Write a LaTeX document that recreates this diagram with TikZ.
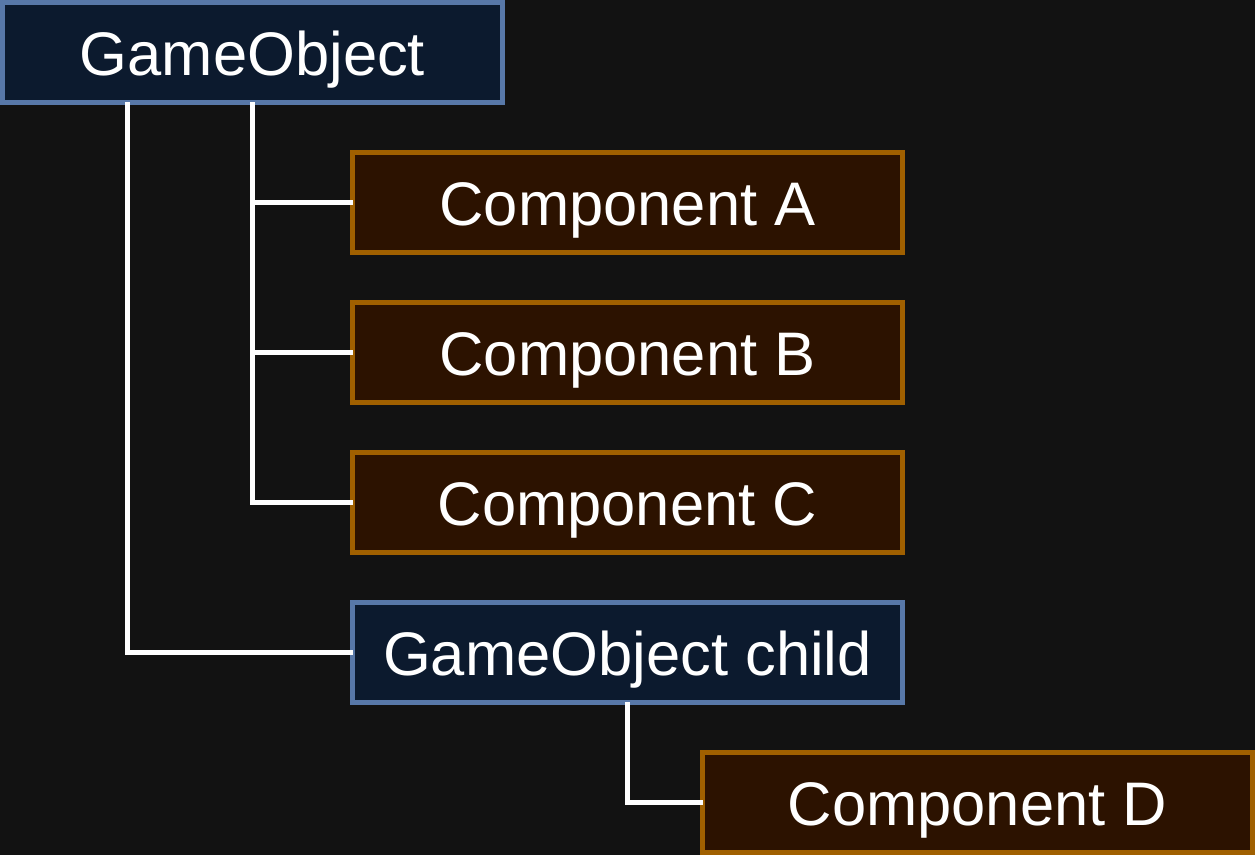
\documentclass[tikz,border=0pt]{standalone}
\usepackage{fontspec}
\setmainfont{Liberation Sans}
\usetikzlibrary{positioning}
\definecolor{bgcol}{HTML}{121212}
\definecolor{objfill}{HTML}{0C1A2E}
\definecolor{objdraw}{HTML}{5878A8}
\definecolor{compfill}{HTML}{2C1200}
\definecolor{compdraw}{HTML}{A06000}

\begin{document}
\begin{tikzpicture}[x=0.02cm,y=-0.02cm]
  \tikzstyle{gobj}=[rectangle,line width=2.85pt,draw=objdraw,fill=objfill,text=white,inner sep=0pt,outer sep=0pt,minimum height=2cm,text height=26pt,text depth=0pt,font=\fontsize{35}{42}\selectfont]
  \tikzstyle{comp}=[gobj,draw=compdraw,fill=compfill,minimum width=11cm]
  \tikzstyle{link}=[white,line width=2.85pt]

  \fill [bgcol] (0,0) rectangle (1255,855);
  \useasboundingbox (0,0) rectangle (1255,855);

  % Parent object.
  \node [gobj,minimum width=10cm] (go) at (252.5,52.5) {GameObject};

  % Its components.
  \node [comp] (ca) at (627.5,202.5) {Component A};
  \node [comp] (cb) at (627.5,352.5) {Component B};
  \node [comp] (cc) at (627.5,502.5) {Component C};

  % Child object and its component.
  \node [gobj,minimum width=11cm] (child) at (627.5,652.5) {GameObject child};
  \node [comp] (cd) at (977.5,802.5) {Component D};

  \draw [link] ([xshift=-2.51cm]go.south) |- (child.west);
  \draw [link] (go.south) |- (cc.west);
  \draw [link] (go.south |- ca.west) -- (ca.west);
  \draw [link] (go.south |- cb.west) -- (cb.west);
  \draw [link] (child.south) |- (cd.west);
\end{tikzpicture}
\end{document}
